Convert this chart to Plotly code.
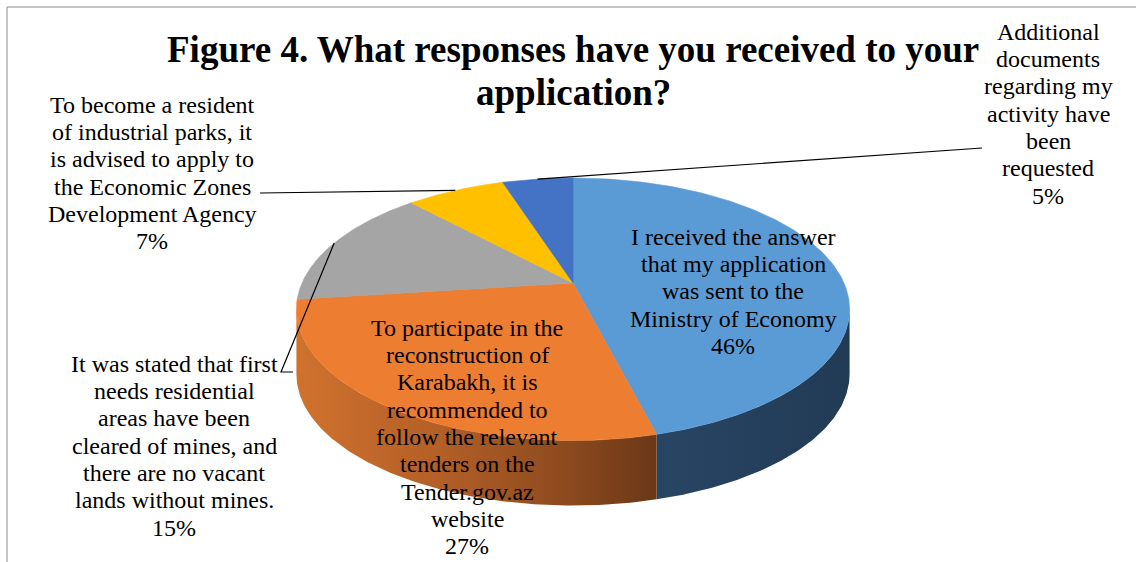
import numpy as np
import plotly.graph_objects as go

# ---------------- data ----------------
categories = [
    "I received the answer<br>that my application<br>was sent to the<br>Ministry of Economy",
    "To participate in the<br>reconstruction of<br>Karabakh, it is<br>recommended to<br>follow the relevant<br>tenders on the<br>Tender.gov.az<br>website",
    "It was stated that first<br>needs residential<br>areas have been<br>cleared of mines, and<br>there are no vacant<br>lands without mines.",
    "To become a resident<br>of industrial parks, it<br>is advised to apply to<br>the Economic Zones<br>Development Agency",
    "Additional<br>documents<br>regarding my<br>activity have<br>been<br>requested",
]
values = [46, 27, 15, 7, 5]
colors = ["#5B9BD5", "#ED7D31", "#A5A5A5", "#FFC000", "#4472C4"]
title_lines = ["Figure 4. What responses have you received to your", "application?"]

# ---------------- layout constants ----------------
W, H = 1136, 562
CX, CY = 573, 283
RX, RY = 271, 126
PERSP = 0.2
DEPTH = 65
FONT = "Liberation Serif, Times New Roman, serif"
LBL_SIZE = 24
LINE_PITCH = 27.3

# label placement: (center x, baseline of first line)
label_pos = [(733, 245), (467, 336), (174, 372), (152, 113), (1048, 40)]
# leader line anchors (label side) for outside labels
leader_pts = {2: [(281, 372), (293, 372)], 3: [(260, 193)], 4: [(982, 148)]}
wall_scales = {
    0: [[0, "#284564"], [1, "#223B55"]],
    1: [[0, "#D0722E"], [0.4, "#B35F27"], [0.75, "#8C4A1E"], [1, "#6B3817"]],
}


def rim(theta_deg, drop=0.0):
    t = np.radians(theta_deg)
    s = 1.0 / (1.0 + PERSP * np.cos(t))
    return CX + RX * np.sin(t) * s, CY - RY * np.cos(t) * s + drop


total = float(sum(values))
bounds = np.concatenate([[0.0], np.cumsum(values)]) / total * 360.0
theta_r = np.degrees(np.arccos(-PERSP))
theta_l = 360.0 - theta_r

fig = go.Figure()

# side walls (front, visible part)
for i in range(len(values)):
    lo = max(bounds[i], theta_r)
    hi = min(bounds[i + 1], theta_l)
    if lo >= hi:
        continue
    ts = np.linspace(lo, hi, 120)
    xt, yt = rim(ts)
    xb, yb = rim(ts[::-1], DEPTH)
    xs = np.concatenate([xt, xb, xt[:1]])
    ys = np.concatenate([yt, yb, yt[:1]])
    kw = {}
    if i in wall_scales:
        kw["fillgradient"] = dict(type="horizontal", colorscale=wall_scales[i])
    fig.add_trace(go.Scatter(x=xs, y=ys, mode="lines", fill="toself",
                             fillcolor="#333333", line=dict(width=0),
                             hoverinfo="skip", showlegend=False, **kw))

# top faces
for i in range(len(values)):
    ts = np.linspace(bounds[i], bounds[i + 1], 200)
    xt, yt = rim(ts)
    xs = np.concatenate([[CX], xt, [CX]])
    ys = np.concatenate([[CY], yt, [CY]])
    fig.add_trace(go.Scatter(x=xs, y=ys, mode="lines", fill="toself",
                             fillcolor=colors[i], line=dict(width=0.6, color=colors[i]),
                             hoverinfo="skip", showlegend=False))

# leader lines
for i, pts in leader_pts.items():
    mid = (bounds[i] + bounds[i + 1]) / 2
    mx, my = rim(mid)
    xs = [float(mx)] + [p[0] for p in pts]
    ys = [float(my)] + [p[1] for p in pts]
    fig.add_trace(go.Scatter(x=xs, y=ys, mode="lines",
                             line=dict(color="black", width=1.2),
                             hoverinfo="skip", showlegend=False))

annotations = []
# title
for k, t in enumerate(title_lines):
    base = 62 + 43 * k
    annotations.append(dict(x=573, y=base - 0.34 * 37, xref="x", yref="y",
                            text="<b>" + t + "</b>", showarrow=False,
                            xanchor="center", yanchor="middle",
                            font=dict(family=FONT, size=37, color="black")))
# data labels
for i, cat in enumerate(categories):
    lines = cat.split("<br>") + [f"{values[i]}%"]
    x0, b0 = label_pos[i]
    for k, ln in enumerate(lines):
        base = b0 + LINE_PITCH * k
        annotations.append(dict(x=x0, y=base - 0.34 * LBL_SIZE, xref="x", yref="y",
                                text=ln, showarrow=False,
                                xanchor="center", yanchor="middle",
                                font=dict(family=FONT, size=LBL_SIZE, color="black")))

fig.update_layout(
    width=W, height=H,
    margin=dict(l=0, r=0, t=0, b=0),
    paper_bgcolor="white", plot_bgcolor="white",
    xaxis=dict(range=[0, W], visible=False, fixedrange=True),
    yaxis=dict(range=[H, 0], visible=False, fixedrange=True),
    annotations=annotations,
    shapes=[dict(type="rect", xref="x", yref="y", x0=7, y0=7, x1=W + 5, y1=H + 5,
                 line=dict(color="#8C8C8C", width=1), fillcolor="rgba(0,0,0,0)")],
    showlegend=False,
)

fig.write_html("out.html")
